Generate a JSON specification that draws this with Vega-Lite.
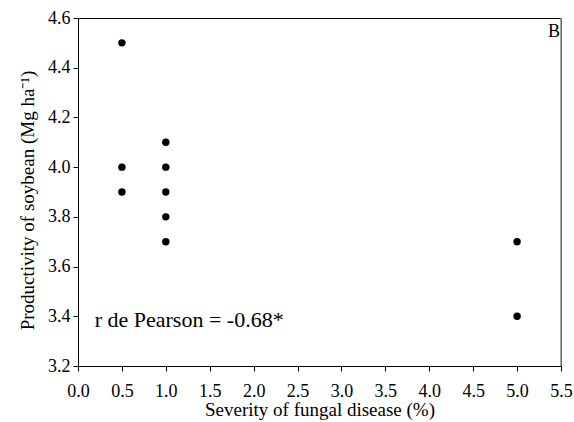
{
  "$schema": "https://vega.github.io/schema/vega-lite/v6.json",
  "autosize": "none",
  "width": 483,
  "height": 348,
  "padding": {"left": 78, "top": 18, "right": 13, "bottom": 56},
  "background": "white",
  "config": {
    "font": "Liberation Serif",
    "view": {"stroke": "#000", "strokeWidth": 1},
    "axis": {
      "grid": false,
      "domainColor": "#000",
      "tickColor": "#000",
      "tickSize": 5,
      "labelFont": "Liberation Serif",
      "labelFontSize": 18,
      "labelColor": "#000",
      "titleFont": "Liberation Serif",
      "titleFontSize": 19,
      "titleFontWeight": "normal",
      "titleColor": "#000"
    }
  },
  "layer": [
    {
      "data": {
        "values": [
          {"severity": 0.5, "productivity": 4.5},
          {"severity": 0.5, "productivity": 4.0},
          {"severity": 0.5, "productivity": 3.9},
          {"severity": 1.0, "productivity": 4.1},
          {"severity": 1.0, "productivity": 4.0},
          {"severity": 1.0, "productivity": 3.9},
          {"severity": 1.0, "productivity": 3.8},
          {"severity": 1.0, "productivity": 3.7},
          {"severity": 5.0, "productivity": 3.7},
          {"severity": 5.0, "productivity": 3.4}
        ]
      },
      "mark": {"type": "point", "filled": true, "color": "#000", "opacity": 1, "size": 55},
      "encoding": {
        "x": {
          "field": "severity", "type": "quantitative",
          "scale": {"domain": [0, 5.5], "nice": false, "zero": false},
          "axis": {"values": [0, 0.5, 1, 1.5, 2, 2.5, 3, 3.5, 4, 4.5, 5, 5.5], "format": ".1f", "labelPadding": 11, "labelBaseline": "top", "title": "Severity of fungal disease (%)", "titlePadding": 0, "labelFlush": false}
        },
        "y": {
          "field": "productivity", "type": "quantitative",
          "scale": {"domain": [3.2, 4.6], "nice": false, "zero": false},
          "axis": {"values": [3.2, 3.4, 3.6, 3.8, 4.0, 4.2, 4.4, 4.6], "format": ".1f", "labelPadding": 3, "title": "Productivity of soybean (Mg ha⁻¹)", "titlePadding": 10, "titleY": 182, "labelFlush": false}
        }
      }
    },
    {
      "data": {"values": [{"edge": 5.5}]},
      "mark": {"type": "rule", "color": "#888", "strokeWidth": 1.5},
      "encoding": {"x": {"field": "edge", "type": "quantitative"}}
    },
    {
      "data": {"values": [{"x": 0.19, "y": 3.385, "label": "r de Pearson = -0.68*"}]},
      "mark": {"type": "text", "align": "left", "baseline": "middle", "fontSize": 22, "font": "Liberation Serif", "color": "#000"},
      "encoding": {"x": {"field": "x", "type": "quantitative"}, "y": {"field": "y", "type": "quantitative"}, "text": {"field": "label"}}
    },
    {
      "data": {"values": [{"x": 5.49, "y": 4.545, "label": "B"}]},
      "mark": {"type": "text", "align": "right", "baseline": "middle", "fontSize": 18, "font": "Liberation Serif", "color": "#000"},
      "encoding": {"x": {"field": "x", "type": "quantitative"}, "y": {"field": "y", "type": "quantitative"}, "text": {"field": "label"}}
    }
  ]
}
